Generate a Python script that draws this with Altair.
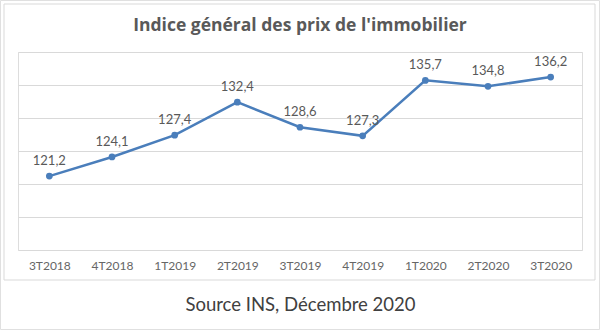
import altair as alt
import pandas as pd

quarters = ["3T2018", "4T2018", "1T2019", "2T2019", "3T2019", "4T2019", "1T2020", "2T2020", "3T2020"]
values = [121.2, 124.1, 127.4, 132.4, 128.6, 127.3, 135.7, 134.8, 136.2]
y_ticks = [110, 115, 120, 125, 130, 135, 140]
title_text = "Indice général des prix de l'immobilier"
source_text = "Source INS, Décembre 2020"

df = pd.DataFrame({
    "q": quarters,
    "v": values,
    "label": [f"{v:.1f}".replace(".", ",") for v in values],
})

FONT = "Lato"
GRAY = "#595959"
BLUE = "#4A7EBB"

x = alt.X("q:N", sort=quarters, scale=alt.Scale(paddingInner=0, paddingOuter=0),
          axis=alt.Axis(title=source_text, labelAngle=0, domain=False, ticks=False,
                        labelPadding=10, labelFontSize=12, labelColor="#666666", labelFont=FONT,
                        titleFontSize=18.5, titleFont=FONT, titleFontWeight="normal", titleColor="#404040",
                        titlePadding=24))
y = alt.Y("v:Q", scale=alt.Scale(domain=[110, 140], nice=False, zero=False),
          axis=alt.Axis(values=y_ticks, title=None, labels=False, ticks=False, domain=False,
                        grid=True, gridColor="#d9d9d9", gridWidth=1))

base = alt.Chart(df)

line = base.mark_line(color=BLUE, strokeWidth=2.5).encode(x=x, y=y)
pts = base.mark_point(color=BLUE, filled=True, size=45, opacity=1).encode(x=x, y=y)
labels = base.mark_text(dy=-15, fontSize=13, color=GRAY, font=FONT).encode(x=x, y=y, text="label:N")

one = pd.DataFrame({"t": [title_text]})
frame = alt.Chart(one).mark_rect(fill=None, stroke="#d9d9d9", strokeWidth=1).encode(
    x=alt.value(-14), x2=alt.value(577), y=alt.value(-48), y2=alt.value(228))
outer = alt.Chart(one).mark_rect(fill=None, stroke="#e0e0e0", strokeWidth=1).encode(
    x=alt.value(-17.5), x2=alt.value(581.5), y=alt.value(-51.5), y2=alt.value(277.5))
title = alt.Chart(one).mark_text(fontSize=17.5, font="Open Sans", fontWeight="bold", color=GRAY,
                                 baseline="middle", align="center").encode(
    x=alt.value(282), y=alt.value(-26), text="t:N")

chart = alt.layer(outer, frame, line, pts, labels, title).properties(
    width=564, height=198,
    autosize=alt.AutoSizeParams(type="none"),
    padding={"left": 18, "top": 52, "right": 18, "bottom": 80},
).configure_view(stroke=None).configure(background="white")

chart.save("out.html", embed_options={"renderer": "svg", "actions": False})
